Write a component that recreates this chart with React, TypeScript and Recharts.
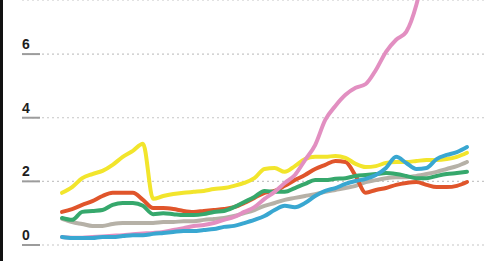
import { CartesianGrid, Line, LineChart, XAxis, YAxis } from "recharts";

// one point per period left to right
const periods = [
  "1", "2", "3", "4", "5", "6", "7", "8", "9", "10",
  "11", "12", "13", "14", "15", "16", "17", "18", "19", "20",
  "21", "22", "23", "24", "25", "26", "27", "28", "29", "30",
  "31", "32", "33", "34", "35", "36", "37", "38", "39", "40", "41",
];

const yellow = [
  1.64, 1.82, 2.1, 2.23, 2.33, 2.52, 2.77, 2.96, 3.18, 1.45,
  1.54, 1.6, 1.64, 1.67, 1.7, 1.76, 1.79, 1.86, 1.95, 2.1,
  2.39, 2.42, 2.3, 2.48, 2.7, 2.77, 2.77, 2.8, 2.74, 2.55,
  2.45, 2.48, 2.58, 2.61, 2.61, 2.64, 2.67, 2.67, 2.7, 2.77, 2.9,
];

const orange = [
  1.04, 1.13, 1.26, 1.38, 1.54, 1.64, 1.64, 1.64, 1.42, 1.16,
  1.16, 1.13, 1.07, 1.04, 1.07, 1.1, 1.13, 1.19, 1.32, 1.48,
  1.64, 1.7, 1.86, 2.04, 2.2, 2.39, 2.52, 2.64, 2.61, 2.17,
  1.64, 1.73, 1.79, 1.89, 1.95, 1.98, 1.89, 1.82, 1.82, 1.86, 1.98,
];

const green = [
  0.85, 0.79, 1.04, 1.07, 1.1, 1.26, 1.32, 1.32, 1.23, 0.97,
  1.0, 0.97, 0.94, 0.94, 0.97, 1.04, 1.07, 1.19, 1.35, 1.51,
  1.7, 1.67, 1.67, 1.79, 1.92, 2.04, 2.04, 2.08, 2.1, 2.17,
  2.2, 2.23, 2.26, 2.23, 2.17, 2.1, 2.1, 2.17, 2.23, 2.26, 2.3,
];

const gray = [
  0.82, 0.72, 0.66, 0.6, 0.6, 0.66, 0.69, 0.69, 0.69, 0.69,
  0.72, 0.72, 0.75, 0.75, 0.79, 0.82, 0.85, 0.91, 1.0, 1.1,
  1.23, 1.32, 1.42, 1.48, 1.54, 1.6, 1.67, 1.73, 1.79, 1.86,
  1.98, 2.04, 2.1, 2.13, 2.13, 2.17, 2.23, 2.3, 2.39, 2.48, 2.61,
];

const blue = [
  0.25, 0.22, 0.22, 0.22, 0.25, 0.25, 0.28, 0.31, 0.31, 0.35,
  0.38, 0.41, 0.44, 0.44, 0.47, 0.5, 0.57, 0.6, 0.69, 0.79,
  0.91, 1.1, 1.23, 1.19, 1.32, 1.54, 1.7, 1.79, 1.92, 2.01,
  2.08, 2.2, 2.42, 2.77, 2.58, 2.39, 2.42, 2.7, 2.83, 2.92, 3.08,
];

// runs off the top of the chart after period 36
const pink: (number | null)[] = [
  0.25, 0.23, 0.23, 0.25, 0.27, 0.29, 0.31, 0.34, 0.36, 0.38,
  0.41, 0.47, 0.53, 0.6, 0.63, 0.69, 0.79, 0.88, 1.04, 1.19,
  1.45, 1.67, 1.95, 2.2, 2.67, 3.14, 3.93, 4.37, 4.72, 4.94,
  5.06, 5.5, 6.07, 6.45, 6.7, 7.55, 9.0, null, null, null, null,
];

const yTicks = [0, 2, 4, 6];

const rows = periods.map((period, i) => ({
  period,
  yellow: yellow[i],
  orange: orange[i],
  green: green[i],
  gray: gray[i],
  blue: blue[i],
  pink: pink[i],
}));

const series = [
  { key: "gray", color: "#b6b1a7" },
  { key: "orange", color: "#e0552b" },
  { key: "green", color: "#36a86c" },
  { key: "yellow", color: "#f2e52c" },
  { key: "pink", color: "#e28fc1" },
  { key: "blue", color: "#39a7d1" },
];

function YTick({ y, payload }: any) {
  return (
    <g>
      <line x1={22} x2={40} y1={y} y2={y} stroke="#9c9c9c" strokeWidth={2} />
      <text
        x={22}
        y={y - 5}
        fontFamily="'Liberation Sans', Arial, sans-serif"
        fontWeight={700}
        fontSize={14}
        fill="#1e1e1e"
      >
        {payload.value}
      </text>
    </g>
  );
}

export default function App() {
  return (
    <div style={{ position: "relative", width: 497, height: 261, background: "#fff" }}>
      <style>{"body{margin:0}"}</style>
      <div style={{ position: "absolute", left: 0, top: 0, width: 3, height: 261, background: "#111" }} />
      <LineChart width={497} height={261} data={rows} margin={{ top: 0, right: 10, bottom: 16, left: 0 }}>
        <CartesianGrid vertical={false} stroke="#c6c6c6" strokeDasharray="2 3" strokeWidth={1.2} />
        <XAxis dataKey="period" hide padding={{ left: 40, right: 20 }} />
        <YAxis
          width={22}
          domain={[0, 7.7]}
          ticks={yTicks}
          allowDataOverflow
          axisLine={false}
          tickLine={false}
          tick={<YTick />}
        />
        {series.map((s) => (
          <Line
            key={s.key}
            dataKey={s.key}
            type="monotone"
            stroke={s.color}
            strokeWidth={4}
            strokeLinecap="round"
            strokeLinejoin="round"
            dot={false}
            activeDot={false}
            connectNulls={false}
            isAnimationActive={false}
          />
        ))}
      </LineChart>
    </div>
  );
}
